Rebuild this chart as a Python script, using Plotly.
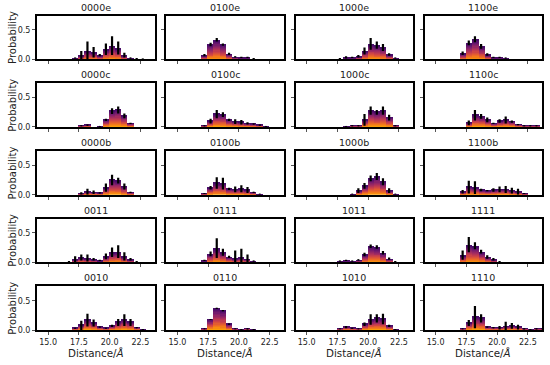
import plotly.graph_objects as go
import plotly.colors as pc

# bin centres (Å), bin width 0.5
bin_centers = [14.7, 15.2, 15.7, 16.2, 16.7, 17.2, 17.7, 18.2, 18.7, 19.2,
               19.7, 20.2, 20.7, 21.2, 21.7, 22.2, 22.7, 23.2, 23.7]

x_ticks = [15.0, 17.5, 20.0, 22.5]
x_tick_labels = ["15.0", "17.5", "20.0", "22.5"]
y_ticks = [0.0, 0.5]
y_tick_labels = ["0.0", "0.5"]

titles = ["0000e", "0100e", "1000e", "1100e",
          "0000c", "0100c", "1000c", "1100c",
          "0000b", "0100b", "1000b", "1100b",
          "0011", "0111", "1011", "1111",
          "0010", "0110", "1010", "1110"]

# probabilities per bin
p_0000e = [0, 0, 0, 0, 0, .02, .07, .14, .12, .07, .17, .23, .19, .07, .02, .01, .005, 0, 0]
p_0100e = [0, 0, 0, 0, 0, .07, .25, .33, .25, .09, .04, .03, .03, .01, 0, 0, 0, 0, 0]
p_1000e = [0, 0, 0, 0, 0, 0, .01, .03, .03, .05, .14, .26, .24, .20, .08, .02, 0, 0, 0]
p_1100e = [0, 0, 0, 0, 0, .10, .28, .34, .22, .08, .03, .03, .02, 0, 0, 0, 0, 0, 0]
p_0000c = [0, 0, 0, 0, 0, 0, .02, .03, 0, .01, .12, .27, .29, .19, .06, 0, 0, 0, 0]
p_0100c = [0, 0, 0, 0, 0, .02, .10, .22, .21, .12, .09, .08, .06, .05, .03, .01, 0, 0, 0]
p_1000c = [0, 0, 0, 0, 0, 0, 0, .01, .02, .02, .12, .28, .25, .28, .16, .02, 0, 0, 0]
p_1100c = [0, 0, 0, 0, 0, 0, .07, .20, .18, .12, .06, .10, .12, .09, .04, .02, .02, .02, 0]
p_0000b = [0, 0, 0, 0, 0, 0, .02, .05, .04, .03, .12, .25, .24, .14, .04, 0, 0, 0, 0]
p_0100b = [0, 0, 0, 0, 0, .02, .12, .20, .19, .10, .09, .10, .08, .04, .01, 0, 0, 0, 0]
p_1000b = [0, 0, 0, 0, 0, 0, 0, 0, .01, .07, .15, .28, .31, .22, .07, .01, 0, 0, 0]
p_1100b = [0, 0, 0, 0, 0, .05, .13, .12, .08, .07, .08, .09, .09, .07, .05, .02, 0, 0, 0]
p_0011 = [0, 0, 0, 0, .01, .05, .08, .07, .05, .03, .10, .17, .18, .10, .05, .01, 0, 0, 0]
p_0111 = [0, 0, 0, 0, 0, .03, .14, .24, .17, .09, .07, .08, .06, .02, 0, 0, 0, 0, 0]
p_1011 = [0, 0, 0, 0, 0, 0, .02, .03, .02, .04, .13, .27, .26, .16, .06, .01, 0, 0, 0]
p_1111 = [0, 0, 0, 0, 0, .12, .30, .28, .18, .09, .05, .01, 0, 0, 0, 0, 0, 0, 0]
p_0010 = [0, 0, 0, 0, 0, .03, .08, .17, .12, .05, .03, .07, .13, .17, .13, .04, .01, 0, 0]
p_0110 = [0, 0, 0, 0, 0, .02, .18, .37, .33, .10, .02, .01, .02, .01, 0, 0, 0, 0, 0]
p_1010 = [0, 0, 0, 0, 0, 0, .02, .05, .03, .02, .10, .18, .20, .19, .07, .01, 0, 0, 0]
p_1110 = [0, 0, 0, 0, 0, .02, .12, .22, .20, .05, .04, .04, .06, .07, .05, .02, .01, .02, .02]

# error bars (half-length)
e_0000e = [0, 0, 0, 0, 0, .01, .07, .16, .09, .02, .10, .16, .11, .04, .01, .01, .005, 0, 0]
e_0100e = [0, 0, 0, 0, 0, .02, .03, .03, .02, .02, .01, .01, .01, .005, 0, 0, 0, 0, 0]
e_1000e = [0, 0, 0, 0, 0, 0, .005, .02, .01, .02, .06, .10, .06, .06, .02, .01, 0, 0, 0]
e_1100e = [0, 0, 0, 0, 0, .03, .04, .05, .04, .02, .01, .01, .01, 0, 0, 0, 0, 0, 0]
e_0000c = [0, 0, 0, 0, 0, 0, .01, .01, 0, .005, .02, .05, .06, .04, .01, 0, 0, 0, 0]
e_0100c = [0, 0, 0, 0, 0, .01, .04, .07, .04, .02, .04, .04, .02, .01, .01, .005, 0, 0, 0]
e_1000c = [0, 0, 0, 0, 0, 0, 0, .005, .01, .01, .10, .07, .04, .07, .05, .01, 0, 0, 0]
e_1100c = [0, 0, 0, 0, 0, 0, .04, .09, .04, .04, .01, .03, .06, .02, .01, .01, .01, .01, 0]
e_0000b = [0, 0, 0, 0, 0, 0, .02, .05, .03, .01, .07, .09, .05, .05, .01, 0, 0, 0, 0]
e_0100b = [0, 0, 0, 0, 0, .01, .03, .10, .10, .02, .05, .06, .05, .01, .005, 0, 0, 0, 0]
e_1000b = [0, 0, 0, 0, 0, 0, 0, 0, .005, .04, .05, .05, .06, .06, .04, .005, 0, 0, 0]
e_1100b = [0, 0, 0, 0, 0, .03, .11, .11, .02, .01, .03, .05, .06, .05, .05, .01, 0, 0, 0]
e_0011 = [0, 0, 0, 0, .005, .05, .05, .06, .02, .01, .05, .08, .11, .07, .02, .005, 0, 0, 0]
e_0111 = [0, 0, 0, 0, 0, .01, .04, .17, .06, .02, .13, .15, .07, .01, 0, 0, 0, 0, 0]
e_1011 = [0, 0, 0, 0, 0, 0, .01, .01, .01, .01, .03, .03, .03, .03, .02, .005, 0, 0, 0]
e_1111 = [0, 0, 0, 0, 0, .08, .13, .06, .03, .03, .02, .005, 0, 0, 0, 0, 0, 0, 0]
e_0010 = [0, 0, 0, 0, 0, .01, .08, .11, .06, .01, .01, .02, .06, .10, .06, .01, .005, 0, 0]
e_0110 = [0, 0, 0, 0, 0, .005, .01, .01, .01, .01, .005, .005, .01, .005, 0, 0, 0, 0, 0]
e_1010 = [0, 0, 0, 0, 0, 0, .005, .02, .01, .005, .03, .09, .07, .09, .02, .005, 0, 0, 0]
e_1110 = [0, 0, 0, 0, 0, .005, .05, .19, .07, .01, .01, .03, .08, .05, .04, .01, .005, .01, .01]

probs = [p_0000e, p_0100e, p_1000e, p_1100e,
         p_0000c, p_0100c, p_1000c, p_1100c,
         p_0000b, p_0100b, p_1000b, p_1100b,
         p_0011, p_0111, p_1011, p_1111,
         p_0010, p_0110, p_1010, p_1110]
errs = [e_0000e, e_0100e, e_1000e, e_1100e,
        e_0000c, e_0100c, e_1000c, e_1100c,
        e_0000b, e_0100b, e_1000b, e_1100b,
        e_0011, e_0111, e_1011, e_1111,
        e_0010, e_0110, e_1010, e_1110]

W, H = 550, 365
col_left = [37.0, 166.3, 295.6, 424.5]
col_w = 117.5
row_top = [15.8, 84.5, 153.2, 221.6, 290.4]
row_h = 44.2

N_SEG = 16
seg_colors = pc.sample_colorscale(
    "Inferno", [0.78 - (0.78 - 0.22) * i / (N_SEG - 1) for i in range(N_SEG)])

FONT = "DejaVu Sans"
fig = go.Figure()
layout = dict(width=W, height=H, margin=dict(l=0, r=0, t=0, b=0), autosize=False,
              paper_bgcolor="white", plot_bgcolor="white", barmode="stack",
              bargap=0, showlegend=False, font=dict(family=FONT, color="black"))
annotations = []

for i, (title, p, e) in enumerate(zip(titles, probs, errs)):
    r, c = divmod(i, 4)
    n = i + 1
    xa, ya = f"x{n}", f"y{n}"
    for s in range(N_SEG):
        fig.add_trace(go.Bar(x=bin_centers, y=[v / N_SEG for v in p], width=0.5,
                             marker=dict(color=seg_colors[s], line=dict(width=0)),
                             xaxis=xa, yaxis=ya, hoverinfo="skip"))
    xs = [x for x, v in zip(bin_centers, p) if v > 0]
    ys = [v for v in p if v > 0]
    es = [max(ev, 0.008) for ev, v in zip(e, p) if v > 0]
    fig.add_trace(go.Scatter(x=xs, y=ys, mode="markers",
                             marker=dict(size=1, color="black"),
                             error_y=dict(type="data", array=es, visible=True,
                                          color="black", thickness=2.2, width=0),
                             xaxis=xa, yaxis=ya, hoverinfo="skip"))
    x0 = col_left[c] / W
    x1 = (col_left[c] + col_w) / W
    y1 = 1 - row_top[r] / H
    y0 = 1 - (row_top[r] + row_h) / H
    axis_common = dict(showline=True, mirror=True, linecolor="black", linewidth=2,
                       showgrid=False, zeroline=False, ticks="outside", ticklen=3,
                       tickwidth=1, tickcolor="#555", fixedrange=True,
                       tickfont=dict(size=8, family=FONT, color="#222"))
    layout["xaxis" + (str(n) if n > 1 else "")] = dict(
        axis_common, domain=[x0, x1], anchor=ya, range=[14.1, 23.65],
        tickvals=x_ticks, ticktext=x_tick_labels, showticklabels=(r == 4))
    layout["yaxis" + (str(n) if n > 1 else "")] = dict(
        axis_common, domain=[y0, y1], anchor=xa, range=[0, 0.745],
        tickvals=y_ticks, ticktext=y_tick_labels, showticklabels=(c == 0))
    annotations.append(dict(text=title, x=(x0 + x1) / 2, y=y1, xref="paper", yref="paper",
                            xanchor="center", yanchor="bottom", yshift=1, showarrow=False,
                            font=dict(size=9.5, family=FONT, color="#222")))
    if c == 0:
        annotations.append(dict(text="Probability", x=12.5 / W, y=(y0 + y1) / 2,
                                xref="paper", yref="paper", textangle=-90,
                                xanchor="center", yanchor="middle", showarrow=False,
                                font=dict(size=10, family=FONT, color="#222")))
    if r == 4:
        annotations.append(dict(text="Distance/<i>Å</i>", x=(x0 + x1) / 2, y=1 - 349.5 / H,
                                xref="paper", yref="paper", xanchor="center",
                                yanchor="top", showarrow=False,
                                font=dict(size=10.3, family=FONT, color="#222")))

layout["annotations"] = annotations
fig.update_layout(**layout)
fig.write_html("out.html", config={"displayModeBar": False},
               post_script="document.body.style.margin='0px';document.body.style.overflow='hidden';")
